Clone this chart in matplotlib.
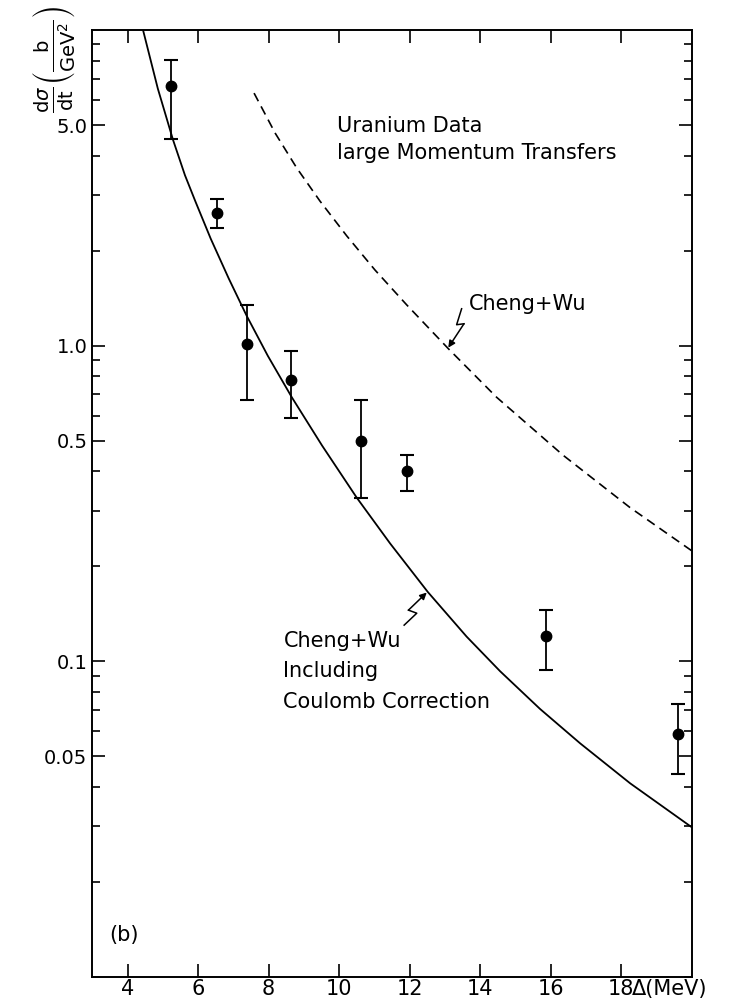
import matplotlib
matplotlib.use("Agg")
import matplotlib.pyplot as plt
from matplotlib.ticker import FixedLocator, NullLocator
from matplotlib.transforms import Affine2D, ScaledTranslation

# measured points (Delta in MeV, dsigma/dt in b/GeV^2)
delta = [5.23, 6.53, 7.39, 8.64, 10.62, 11.93, 15.86, 19.61]
dsdt = [6.64, 2.64, 1.01, 0.78, 0.50, 0.40, 0.120, 0.0588]
dsdt_hi = [8.01, 2.92, 1.34, 0.96, 0.67, 0.45, 0.145, 0.073]
dsdt_lo = [4.50, 2.36, 0.67, 0.59, 0.33, 0.346, 0.094, 0.044]

# Cheng+Wu with Coulomb correction (solid)
coul_x = [4.44, 4.86, 5.29, 5.63, 5.93, 6.36, 6.87, 7.38, 7.98, 8.66, 9.52,
          10.50, 11.45, 12.52, 13.62, 14.57, 15.70, 16.84, 18.26, 20.0]
coul_y = [10.0, 6.52, 4.49, 3.465, 2.855, 2.182, 1.633, 1.243, 0.928, 0.686,
          0.482, 0.330, 0.236, 0.1656, 0.1196, 0.0929, 0.0706, 0.0549, 0.0410,
          0.0298]

# Cheng+Wu without correction (dashed)
cw_x = [7.59, 8.19, 8.80, 9.46, 10.22, 11.02, 11.92, 13.10, 14.47, 16.36,
        18.25, 20.0]
cw_y = [6.31, 4.71, 3.655, 2.870, 2.226, 1.736, 1.346, 0.978, 0.686, 0.449,
        0.307, 0.224]

x_ticks = [4, 6, 8, 10, 12, 14, 16, 18]
y_major = [0.05, 0.1, 0.5, 1.0, 5.0]
y_major_labels = ["0.05", "0.1", "0.5", "1.0", "5.0"]
y_minor = [m * d for d in (0.01, 0.1, 1.0) for m in range(1, 10)
           if round(m * d, 4) not in y_major]

fig = plt.figure(figsize=(7.34, 10.02), dpi=100)
ax = fig.add_axes([0.1257, 0.02525, 0.8164, 0.9448])

ax.plot(coul_x, coul_y, color="black", lw=1.3)
ax.plot(cw_x, cw_y, color="black", lw=1.2, dashes=(5.5, 3.5))

yerr = [[y - lo for y, lo in zip(dsdt, dsdt_lo)],
        [hi - y for y, hi in zip(dsdt, dsdt_hi)]]
ax.errorbar(delta, dsdt, yerr=yerr, fmt="o", color="black", ms=7.5,
            elinewidth=1.3, capsize=5, capthick=1.5)

ax.set_yscale("log")
ax.set_xlim(3, 20)
ax.set_ylim(0.01, 10)

ax.xaxis.set_major_locator(FixedLocator(x_ticks))
ax.xaxis.set_minor_locator(NullLocator())
ax.set_xticklabels([str(t) for t in x_ticks], fontsize=15)
ax.yaxis.set_major_locator(FixedLocator(y_major))
ax.yaxis.set_minor_locator(FixedLocator(y_minor))
ax.set_yticklabels(y_major_labels, fontsize=14)
ax.yaxis.set_minor_formatter(plt.NullFormatter())

ax.tick_params(which="both", direction="in", top=True, right=True, width=1.2)
ax.tick_params(which="major", length=9.5)
ax.tick_params(which="minor", length=6)
ax.tick_params(axis="x", pad=2)
ax.tick_params(axis="y", pad=3.5)
for s in ax.spines.values():
    s.set_linewidth(1.4)

ax.annotate("Δ(MeV)", xy=(18, 0), xycoords=("data", "axes fraction"),
            xytext=(8, -1.5), textcoords="offset points",
            ha="left", va="top", fontsize=15)

fig.text(0.073, 0.941,
         r"$\frac{\mathrm{d}\sigma}{\mathrm{dt}}\left(\frac{\mathrm{b}}{\mathrm{GeV}^2}\right)$",
         rotation=90, ha="center", va="center", fontsize=20)

txt = dict(fontsize=15, va="baseline", ha="left", transform=ax.transAxes)
ax.text(0.408, 0.8926, "Uranium Data", **txt)
ax.text(0.408, 0.8634, "large Momentum Transfers", **txt)
ax.text(0.628, 0.7042, "Cheng+Wu", **txt)
ax.text(0.319, 0.3486, "Cheng+Wu", **txt)
ax.text(0.319, 0.3169, "Including", **txt)
ax.text(0.319, 0.2835, "Coulomb Correction", **txt)
ax.text(0.028, 0.044, "(b)", fontsize=15, va="center", ha="left",
        transform=ax.transAxes)


def zigzag(tip, pts):
    # lightning-style pointer; pts are offsets in points, last one leads to the tip
    tr = (Affine2D().scale(1 / 72.0) + fig.dpi_scale_trans
          + ScaledTranslation(tip[0], tip[1], ax.transData))
    xs = [p[0] for p in pts]
    ys = [p[1] for p in pts]
    ax.plot(xs, ys, color="black", lw=1.1, transform=tr, clip_on=False)
    ax.annotate("", xy=tip, xycoords="data", xytext=pts[-1],
                textcoords="offset points",
                arrowprops=dict(arrowstyle="-|>", color="black", lw=1.1,
                                mutation_scale=10, shrinkA=0, shrinkB=0))


zigzag((13.10, 0.985), [(9.6, 28.0), (6.0, 16.5), (11.3, 17.2)])
zigzag((12.49, 0.165), [(-16.3, -23.5), (-7.2, -14.9), (-13.2, -12.7)])

fig.savefig("out.png", dpi=100)
